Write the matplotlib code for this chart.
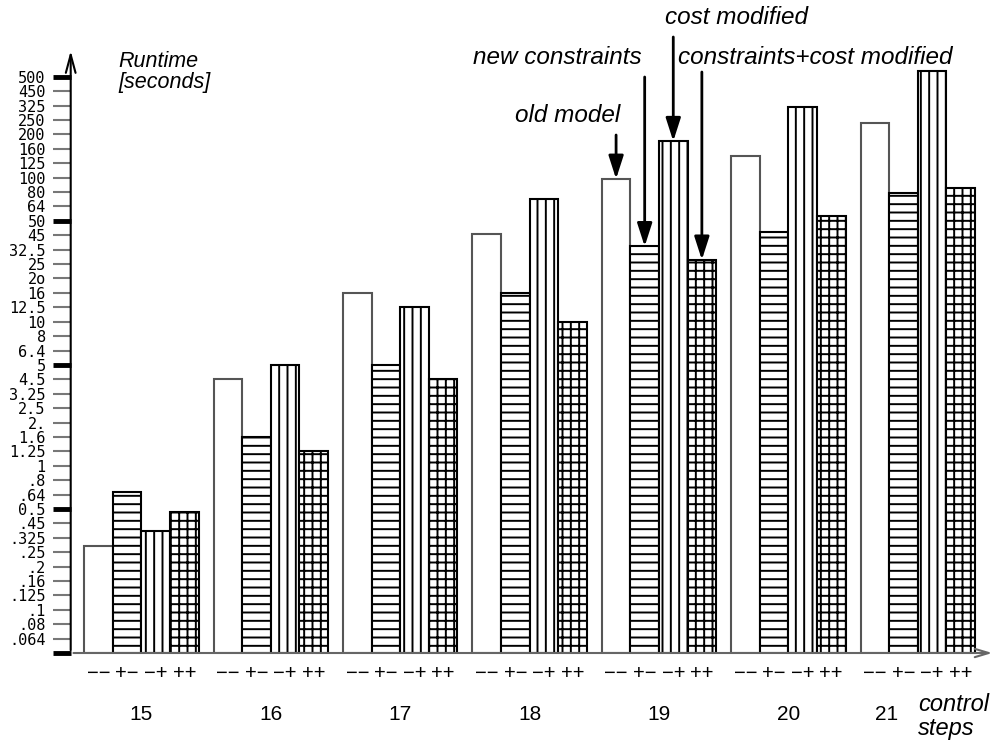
import numpy as np
import matplotlib
matplotlib.use("Agg")
import matplotlib.pyplot as plt
import matplotlib.transforms as mtransforms

plt.rcParams['font.family'] = ['Liberation Sans', 'DejaVu Sans']
plt.rcParams['hatch.linewidth'] = 1.4

# data
groups = ['15', '16', '17', '18', '19', '20', '21']
variants = ['\u2212\u2212', '+\u2212', '\u2212+', '++']
old_model = [0.28, 4.5, 16, 45.5, 98, 141, 239]          # --
new_constraints = [0.67, 1.6, 5, 16, 35, 46, 79]         # +-
cost_modified = [0.38, 5, 12.5, 72, 180, 318, 552]       # -+
both_modified = [0.49, 1.25, 4.5, 10, 27, 54.5, 85.5]    # ++

tick_vals = [0.05, .064, .08, .1, .125, .16, .2, .25, .325, .45,
             .5, .64, .8, 1, 1.25, 1.6, 2, 2.5, 3.25, 4.5,
             5, 6.4, 8, 10, 12.5, 16, 20, 25, 32.5, 45,
             50, 64, 80, 100, 125, 160, 200, 250, 325, 450, 500]
tick_labels = ['', '.064', '.08', '.1', '.125', '.16', '.2', '.25', '.325', '.45',
               '0.5', '.64', '.8', '1', '1.25', '1.6', '2.', '2.5', '3.25', '4.5',
               '5', '6.4', '8', '10', '12.5', '16', '2o', '25', '32.5', '45',
               '50', '64', '80', '100', '125', '160', '200', '250', '325', '450', '500']

# odd hand-made axis: every tick evenly spaced
anchors = np.log10(np.array(tick_vals + [640, 800]))
idx = np.arange(len(anchors))

def fwd(v):
    v = np.clip(np.asarray(v, dtype=float), 1e-4, None)
    return np.interp(np.log10(v), anchors, idx)

def inv(k):
    return 10 ** np.interp(k, idx, anchors)

fig = plt.figure(figsize=(9.95, 7.49), dpi=100)
ax = fig.add_axes([70.7 / 995, 96 / 749, (985 - 70.7) / 995, (653 - 48) / 749])
ax.set_yscale('function', functions=(fwd, inv))
ax.set_ylim(0.05, 800)
ax.set_xlim(-0.547, 6.52)

w = 0.221
x = np.arange(len(groups))
series = [old_model, new_constraints, cost_modified, both_modified]
hatches = [None, '--', '||', '++']
edges = ['#555555', 'black', 'black', 'black']
for j, vals in enumerate(series):
    xs = x + (j - 1.5) * w
    ax.bar(xs, np.array(vals) - tick_vals[0], bottom=tick_vals[0], width=w,
           color='white', edgecolor=edges[j], hatch=hatches[j], linewidth=1.5,
           zorder=2)

for s in ax.spines.values():
    s.set_visible(False)

# y ticks
ax.set_yticks(tick_vals)
ax.set_yticklabels(tick_labels, family='DejaVu Sans Mono', fontsize=11)
ax.tick_params(axis='y', length=13, width=1.5, color='#777777', pad=5)
for k, t in enumerate(ax.yaxis.get_major_ticks()):
    if k % 10 == 0:
        t.tick1line.set_markeredgecolor('black')
        t.tick1line.set_markeredgewidth(3.5)

# x tick labels under each bar
bar_pos = np.concatenate([x + (j - 1.5) * w for j in range(4)])
bar_lab = [variants[j] for j in range(4) for _ in groups]
ax.set_xticks(bar_pos)
ax.set_xticklabels(bar_lab, fontsize=14.5)
ax.tick_params(axis='x', length=0, pad=8)

tr = mtransforms.blended_transform_factory(ax.transData, fig.transFigure)
shift = [0, 0, 0, 0, 0, 0, -0.24]
for g, lab, dx in zip(x, groups, shift):
    ax.text(g + dx, (749 - 715) / 749, lab, transform=tr, ha='center',
            va='center', fontsize=15)

# axes with arrow heads
ax.annotate('', xy=(0, 1), xytext=(0, 0), xycoords='axes fraction',
            arrowprops=dict(arrowstyle='->,head_length=1.3,head_width=0.35',
                            lw=1.5, color='black'), annotation_clip=False)
ax.annotate('', xy=(1.011, 0), xytext=(0, 0), xycoords='axes fraction',
            arrowprops=dict(arrowstyle='->,head_length=1.0,head_width=0.3',
                            lw=1.5, color='#666666'), annotation_clip=False)

fig.text(118 / 995, 0.932, 'Runtime\n[seconds]', style='italic', fontsize=15.5,
         va='top', ha='left', linespacing=1.0)
fig.text(918 / 995, (749 - 693) / 749, 'control\nsteps', style='italic',
         fontsize=17, va='top', ha='left', linespacing=1.05)

# annotations on step 19
g19 = 4
notes = [('old model', 0, 135, 515, 115),
         ('new constraints', 1, 77, 473, 57),
         ('cost modified', 2, 37, 665, 17),
         ('constraints+cost modified', 3, 72, 678, 57)]
for txt, j, ystart, tx, ty in notes:
    xb = g19 + (j - 1.5) * w
    ax.annotate('', xy=(xb, series[j][g19]), xycoords='data',
                xytext=(xb, (749 - ystart) / 749), textcoords=tr,
                arrowprops=dict(arrowstyle='-|>,head_length=1.4,head_width=0.45',
                                lw=2, color='black', shrinkA=0, shrinkB=0),
                annotation_clip=False)
    fig.text(tx / 995, (749 - ty) / 749, txt, style='italic', fontsize=17.5,
             ha='left', va='center')

plt.savefig('out.png', dpi=100)
